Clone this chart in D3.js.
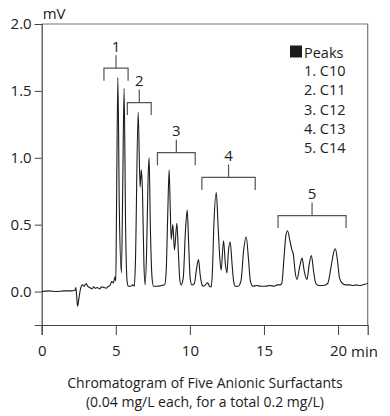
<!DOCTYPE html>
<html><head><meta charset="utf-8">
<script src="https://cdn.jsdelivr.net/npm/d3@7"></script>
<style>
html,body{margin:0;padding:0;background:#fff;}
svg{display:block;font-family:"Open Sans",sans-serif;}
</style></head>
<body><svg id="c" width="390" height="416"></svg>
<script>
// Retention time (min) and detector signal (mV)
const times = [0.0,0.5,1.0,1.5,2.0,2.25,2.3,2.35,2.42,2.5,2.6,2.75,2.85,3.0,3.1,3.25,3.4,3.5,3.6,3.75,3.9,4.05,4.2,4.35,4.5,4.6,4.73,4.84,4.95,5.0,5.04,5.14,5.24,5.38,5.47,5.56,5.66,5.76,5.85,6.0,6.15,6.25,6.32,6.51,6.64,6.72,6.8,6.9,6.98,7.08,7.18,7.25,7.33,7.45,7.55,7.8,8.1,8.3,8.4,8.5,8.6,8.68,8.74,8.85,8.96,9.12,9.22,9.32,9.41,9.55,9.7,9.82,9.92,10.02,10.13,10.3,10.45,10.58,10.7,10.82,10.92,11.05,11.2,11.32,11.44,11.52,11.62,11.78,11.9,12.02,12.11,12.27,12.4,12.5,12.6,12.72,12.85,12.95,13.06,13.25,13.45,13.62,13.8,13.95,14.08,14.25,14.5,14.8,15.1,15.4,15.7,15.9,16.05,16.2,16.35,16.48,16.59,16.75,16.89,16.98,17.1,17.23,17.4,17.57,17.72,17.9,18.05,18.2,18.35,18.5,18.7,19.0,19.3,19.55,19.72,19.82,19.95,20.1,20.3,20.5,20.8,21.0,21.2,21.5,21.8,22.0];
const signal = [0.0,0.005,0.0,0.005,0.005,0.01,0.03,-0.02,-0.11,-0.06,0.01,0.05,0.04,0.06,0.04,0.03,0.02,0.035,0.025,0.03,0.02,0.035,0.03,0.025,0.04,0.045,0.075,0.065,0.11,0.08,0.5,1.60,0.6,0.14,0.8,1.52,0.5,0.08,0.04,0.04,0.05,0.04,0.2,1.34,0.78,0.91,0.75,0.2,0.05,0.3,0.85,1.0,0.5,0.1,0.04,0.04,0.045,0.05,0.15,0.55,0.91,0.6,0.39,0.5,0.31,0.51,0.3,0.09,0.05,0.1,0.45,0.61,0.35,0.1,0.05,0.06,0.17,0.24,0.12,0.05,0.04,0.05,0.065,0.04,0.035,0.15,0.5,0.74,0.5,0.25,0.16,0.38,0.2,0.14,0.3,0.37,0.2,0.08,0.04,0.04,0.08,0.3,0.41,0.25,0.08,0.04,0.045,0.04,0.04,0.045,0.04,0.05,0.05,0.06,0.25,0.42,0.455,0.38,0.31,0.28,0.15,0.09,0.18,0.25,0.15,0.09,0.2,0.27,0.15,0.06,0.045,0.045,0.06,0.2,0.3,0.32,0.24,0.1,0.06,0.05,0.05,0.045,0.05,0.045,0.055,0.06];

const xMajorTicks = [0,5,10,15,20];
const xTickLabels = ["0","5","10","15","20"];
const yMajorTicks = [0,0.5,1.0,1.5,2.0];
const yTickLabels = ["0.0","0.5","1.0","1.5","2.0"];

// Peak groups (brackets)
const groupLabels = ["1","2","3","4","5"];
const groupStart = [4.2,5.78,7.81,10.81,15.95];
const groupEnd = [5.83,7.39,10.36,14.41,20.54];
const groupLevel = [1.67,1.413,1.038,0.853,0.568];

const legendTitle = "Peaks";
const legendItems = ["1. C10","2. C11","3. C12","4. C13","5. C14"];
const titleLines = ["Chromatogram of Five Anionic Surfactants","(0.04 mg/L each, for a total 0.2 mg/L)"];

const L=41.7, R=367.7, T=24, B=325;
const x = d3.scaleLinear([0,22],[L,R]);
const y = d3.scaleLinear([-0.25,2.0],[B,T]);
const svg = d3.select("#c");
const axisCol = "#444", frameCol = "#777", textCol = "#222";

// frame top/right
svg.append("path").attr("d",`M${L},${T}H${R}V${B}`).attr("fill","none").attr("stroke",frameCol).attr("stroke-width",1.2);

// x axis
const gx = svg.append("g").attr("transform",`translate(0,${B})`);
gx.call(d3.axisBottom(x).tickValues(d3.range(0,23)).tickSize(7).tickFormat(""));
gx.call(d3.axisBottom(x).tickValues(xMajorTicks).tickSize(10).tickPadding(10).tickFormat((d,i)=>xTickLabels[i]));
gx.selectAll("path.domain").attr("stroke",axisCol).attr("stroke-width",1.2);
gx.selectAll("line").attr("stroke",axisCol);
gx.selectAll("text").attr("font-size",15).attr("fill",textCol).attr("font-family","Open Sans");
svg.append("text").attr("x",x(20)+13).attr("y",356.5).attr("font-size",15).attr("fill",textCol).text("min");

// y axis
const gy = svg.append("g").attr("transform",`translate(${L},0)`);
gy.call(d3.axisLeft(y).tickValues(d3.range(-2,21).map(d=>d/10)).tickSize(4).tickFormat(""));
gy.call(d3.axisLeft(y).tickValues(yMajorTicks).tickSize(7).tickPadding(3).tickFormat((d,i)=>yTickLabels[i]));
gy.selectAll("path.domain").attr("stroke",axisCol).attr("stroke-width",1.2);
gy.selectAll("line").attr("stroke",axisCol);
gy.selectAll("text").attr("font-size",15).attr("fill",textCol).attr("font-family","Open Sans");
svg.append("text").attr("x",L+1).attr("y",19).attr("font-size",15).attr("fill",textCol).text("mV");

// trace
const data = times.map((t,i)=>[t,signal[i]]);
svg.append("path").datum(data)
  .attr("d",d3.line().x(d=>x(d[0])).y(d=>y(d[1])).curve(d3.curveMonotoneX))
  .attr("fill","none").attr("stroke","#1a1a1a").attr("stroke-width",1.1).attr("stroke-linejoin","round");

// brackets
groupLabels.forEach((lab,i)=>{
  const x0=x(groupStart[i]), x1=x(groupEnd[i]), yy=y(groupLevel[i]), xm=(x0+x1)/2;
  svg.append("path").attr("d",`M${x0},${yy+12.5}V${yy}H${x1}V${yy+12.5}M${xm},${yy}V${yy-13}`)
    .attr("fill","none").attr("stroke","#555").attr("stroke-width",1.2);
  svg.append("text").attr("x",xm).attr("y",yy-16.5).attr("text-anchor","middle")
    .attr("font-size",15).attr("fill",textCol).text(lab);
});

// legend
svg.append("rect").attr("x",290).attr("y",45.5).attr("width",12).attr("height",12).attr("fill","#1a1a1a");
svg.append("text").attr("x",304).attr("y",57.5).attr("font-size",14.5).attr("fill",textCol).text(legendTitle);
legendItems.forEach((s,i)=>{
  svg.append("text").attr("x",304).attr("y",76+i*19.3).attr("font-size",14.5).attr("fill",textCol).text(s);
});

// title
titleLines.forEach((s,i)=>{
  svg.append("text").attr("x",205).attr("y",388+i*19).attr("text-anchor","middle")
    .attr("font-size",14).attr("fill",textCol).text(s);
});
</script></body></html>
